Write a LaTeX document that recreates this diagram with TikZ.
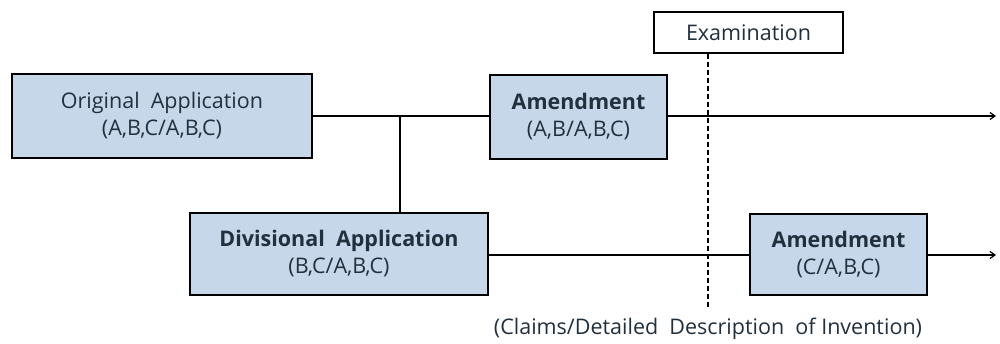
\documentclass[tikz,border=0pt]{standalone}
\usepackage{fontspec}
\setmainfont{Open Sans}
\usetikzlibrary{arrows.meta}
\definecolor{boxfill}{HTML}{C6D7EA}
\definecolor{txt}{HTML}{22303E}
\tikzset{
  appbox/.style={draw=black, line width=1.4pt, fill=boxfill, text=txt, align=center, inner sep=0pt, font=\fontsize{21.5}{27}\selectfont},
  exbox/.style={draw=black, line width=1.4pt, fill=white, text=txt, align=center, inner sep=0pt, font=\fontsize{21.5}{27}\selectfont},
  conn/.style={line width=1.2pt, draw=black},
  arr/.style={conn, -{Straight Barb[length=5pt,width=7pt]}}
}
\begin{document}
\begin{tikzpicture}[x=1pt,y=-1pt]
\useasboundingbox (0,0) rectangle (1000,343);
\node[appbox, minimum width=300pt, minimum height=84pt] (orig) at (162,116) {Original\ \ Application\\(A,B,C/A,B,C)};
\node[appbox, minimum width=298pt, minimum height=82pt] (div) at (339,254) {\textbf{Divisional\ \ Application}\\(B,C/A,B,C)};
\node[appbox, minimum width=177pt, minimum height=84pt] (am1) at (578.5,117) {\textbf{Amendment}\\(A,B/A,B,C)};
\node[appbox, minimum width=177pt, minimum height=81pt] (am2) at (838.5,254.5) {\textbf{Amendment}\\(C/A,B,C)};
\node[exbox, minimum width=189pt, minimum height=41pt] (exam) at (748.5,32.5) {Examination};
\coordinate (br) at (400,116);
\coordinate (e1) at (996,116);
\coordinate (e2) at (996,255);
\coordinate (dend) at (708,308);
\node[text=txt, font=\fontsize{21.5}{27}\selectfont] (cap) at (708,329) {(Claims/Detailed\ \ Description\ \ of\ Invention)};
\draw[conn] (orig.east |- br) -- (am1.west |- br);
\draw[conn] (br) -- (br |- div.north);
\draw[arr] (am1.east |- e1) -- (e1);
\draw[conn] (div.east |- e2) -- (am2.west |- e2);
\draw[arr] (am2.east |- e2) -- (e2);
\draw[line width=1.1pt, dash pattern=on 5pt off 3pt] (exam.south -| dend) -- (dend);
\end{tikzpicture}
\end{document}
